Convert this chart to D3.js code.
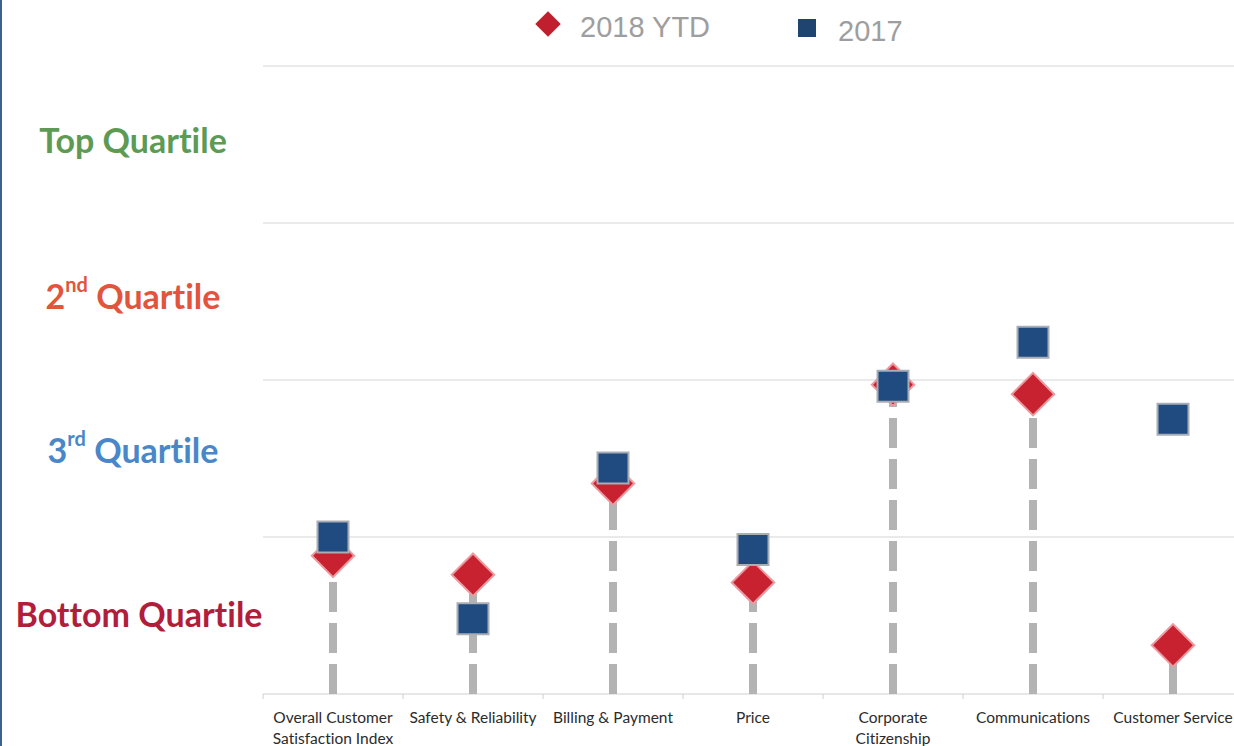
<!DOCTYPE html>
<html>
<head>
<meta charset="utf-8">
<script src="https://cdn.jsdelivr.net/npm/d3@7"></script>
<style>
  html, body { margin: 0; padding: 0; background: #ffffff; }
  svg { display: block; }
  text { font-variant-ligatures: none; }
</style>
</head>
<body>
<svg id="chart" width="1234" height="746"></svg>
<script>
// Survey categories and quartile positions (0 = bottom of scale, 4 = top)
const categories = [
  "Overall Customer Satisfaction Index",
  "Safety & Reliability",
  "Billing & Payment",
  "Price",
  "Corporate Citizenship",
  "Communications",
  "Customer Service"
];
const categoryLines = [
  ["Overall Customer", "Satisfaction Index"],
  ["Safety & Reliability"],
  ["Billing & Payment"],
  ["Price"],
  ["Corporate", "Citizenship"],
  ["Communications"],
  ["Customer Service"]
];
const ytd2018 = [0.88, 0.76, 1.34, 0.71, 1.97, 1.91, 0.31];
const y2017   = [1.00, 0.48, 1.44, 0.92, 1.96, 2.24, 1.75];

const quartileNames = ["Bottom Quartile", "3rd Quartile", "2nd Quartile", "Top Quartile"];
const quartileLabelPos = [0.51, 1.56, 2.54, 3.53];
const gridValues = [0, 1, 2, 3, 4];
const seriesNames = ["2018 YTD", "2017"];

const svg = d3.select("#chart");
const W = 1234, H = 746;
const plotLeft = 263, plotRight = 1243, plotTop = 66, plotBottom = 694;

const x = d3.scaleBand().domain(categories).range([plotLeft, plotRight]).padding(0);
const y = d3.scaleLinear().domain([0, 4]).range([plotBottom, plotTop]);

// slide border on the left edge
svg.append("rect").attr("x", 0).attr("y", 0).attr("width", 2).attr("height", H).attr("fill", "#3f5f8f");

// horizontal quartile boundaries
svg.append("g").selectAll("line").data(gridValues).join("line")
  .attr("x1", plotLeft).attr("x2", W)
  .attr("y1", d => y(d)).attr("y2", d => y(d))
  .attr("stroke", d => d === 0 ? "#cfcfcf" : "#d6d6d6")
  .attr("stroke-width", 1.2);

// category boundary ticks below the axis
const boundaries = categories.map(c => x(c)).concat([plotRight]);
svg.append("g").selectAll("line").data(boundaries).join("line")
  .attr("x1", d => d).attr("x2", d => d)
  .attr("y1", plotBottom).attr("y2", plotBottom + 5)
  .attr("stroke", "#cfcfcf").attr("stroke-width", 1);

// category labels
const xAxis = svg.append("g").attr("transform", `translate(0,${plotBottom})`)
  .call(d3.axisBottom(x).tickSize(0).tickFormat(""));
xAxis.select(".domain").remove();
xAxis.selectAll(".tick").each(function(d, i) {
  const t = d3.select(this).append("text")
    .attr("text-anchor", "middle")
    .attr("fill", "#2b2b2b")
    .style("font-family", "Lato, 'Open Sans', sans-serif")
    .style("font-size", "15.5px");
  categoryLines[i].forEach((line, k) => {
    t.append("tspan").attr("x", 0).attr("y", 29 + k * 21).text(line);
  });
});

// quartile labels on the left
const qColors = ["#b01e3c", "#4a87c9", "#e1553d", "#5d9b55"];
const qSup = [null, "rd", "nd", null];
const qLabels = svg.append("g");
quartileNames.forEach((name, i) => {
  const t = qLabels.append("text")
    .attr("x", i === 0 ? 139 : 133).attr("y", y(quartileLabelPos[i]))
    .attr("text-anchor", "middle").attr("dominant-baseline", "central")
    .attr("fill", qColors[i])
    .style("font-family", "Lato, 'Open Sans', sans-serif")
    .style("font-weight", "bold")
    .style("font-size", "34px");
  if (qSup[i]) {
    t.append("tspan").text(name.charAt(0));
    t.append("tspan").attr("dy", -11).style("font-size", "20px").text(qSup[i]);
    t.append("tspan").attr("dy", 11).text(" " + name.slice(4));
  } else {
    t.text(name);
  }
});

// dashed stems from the axis up to the 2018 YTD marker
svg.append("g").selectAll("line").data(categories).join("line")
  .attr("x1", d => x(d) + x.bandwidth() / 2)
  .attr("x2", d => x(d) + x.bandwidth() / 2)
  .attr("y1", plotBottom)
  .attr("y2", (d, i) => y(ytd2018[i]))
  .attr("stroke", "#b3b3b3")
  .attr("stroke-width", 8)
  .attr("stroke-dasharray", "30 11");

// 2018 YTD diamonds
const diamondSize = d3.symbol().type(d3.symbolSquare).size(30 * 30);
svg.append("g").selectAll("path").data(categories).join("path")
  .attr("d", diamondSize)
  .attr("transform", (d, i) => `translate(${x(d) + x.bandwidth() / 2},${y(ytd2018[i])}) rotate(45)`)
  .attr("fill", "#c8212f")
  .attr("stroke", "#ec9a9f")
  .attr("stroke-width", 2);

// 2017 squares
const squareSize = d3.symbol().type(d3.symbolSquare).size(31 * 31);
svg.append("g").selectAll("path").data(categories).join("path")
  .attr("d", squareSize)
  .attr("transform", (d, i) => `translate(${x(d) + x.bandwidth() / 2},${y(y2017[i])})`)
  .attr("fill", "#1f4b80")
  .attr("stroke", "#a9adb6")
  .attr("stroke-width", 2);

// legend
const legend = svg.append("g");
legend.append("path")
  .attr("d", d3.symbol().type(d3.symbolSquare).size(18 * 18))
  .attr("transform", "translate(548,24) rotate(45)")
  .attr("fill", "#c0202e");
legend.append("text").attr("x", 580).attr("y", 37).text(seriesNames[0])
  .attr("fill", "#9e9e9e")
  .style("font-family", "Arial, 'Liberation Sans', sans-serif")
  .style("font-size", "29px");
legend.append("path")
  .attr("d", d3.symbol().type(d3.symbolSquare).size(18 * 18))
  .attr("transform", "translate(807,28)")
  .attr("fill", "#1f4470");
legend.append("text").attr("x", 838).attr("y", 41).text(seriesNames[1])
  .attr("fill", "#9e9e9e")
  .style("font-family", "Arial, 'Liberation Sans', sans-serif")
  .style("font-size", "29px");
</script>
</body>
</html>
